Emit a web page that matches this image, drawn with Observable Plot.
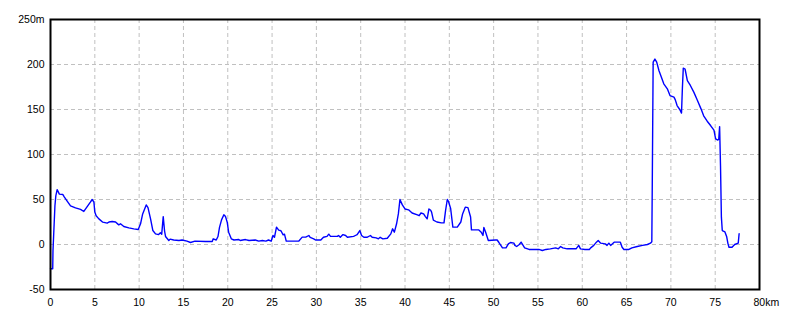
<!DOCTYPE html>
<html>
<head>
<meta charset="utf-8">
<script src="https://cdn.jsdelivr.net/npm/d3@7"></script>
<script src="https://cdn.jsdelivr.net/npm/@observablehq/plot@0.6"></script>
<style>
  html, body { margin: 0; padding: 0; background: white; }
</style>
</head>
<body>
<div id="chart"></div>
<script>
const distanceKm = [
  0, 0.25, 0.28, 0.5, 0.6, 0.75, 1.0, 1.4, 1.55, 1.9, 2.26, 2.82, 3.39, 3.76, 4.14, 4.5, 4.7, 4.9, 5.0, 5.15,
  5.46, 5.9, 6.4, 6.6, 6.96, 7.34, 7.7, 7.9, 8.27, 8.84, 9.4, 9.9, 10.16, 10.4, 10.8, 11.0, 11.29, 11.55, 11.85, 12.2,
  12.4, 12.55, 12.72, 12.87, 12.98, 13.35, 13.5, 13.9, 14.5, 14.85, 15.4, 15.8, 16.3, 17.5, 18.25, 18.36, 18.7, 18.9, 19.07, 19.3,
  19.56, 19.75, 19.94, 20.1, 20.4, 20.7, 21.25, 21.4, 22.0, 22.4, 23.1, 23.5, 23.9, 24.3, 24.6, 24.9, 25.1, 25.27, 25.5, 25.75,
  26.0, 26.25, 26.4, 26.6, 28.0, 28.4, 28.8, 29.15, 29.3, 29.7, 29.9, 30.5, 30.8, 31.2, 31.4, 31.6, 32.36, 32.5, 32.7, 33.0,
  33.3, 33.5, 34.2, 34.4, 34.6, 34.9, 35.1, 35.36, 35.7, 36.1, 36.3, 36.75, 37.0, 37.2, 37.5, 38.0, 38.4, 38.6, 38.8, 39.05,
  39.25, 39.43, 39.7, 40.0, 40.4, 40.8, 41.4, 41.6, 41.8, 42.1, 42.3, 42.5, 42.7, 42.9, 43.0, 43.2, 43.6, 44.1, 44.4, 44.58,
  44.77, 44.9, 45.15, 45.4, 45.9, 46.3, 46.5, 46.8, 47.1, 47.4, 47.5, 48.3, 48.6, 48.8, 48.9, 49.1, 49.4, 50.2, 50.4, 50.6,
  51.0, 51.4, 51.66, 51.9, 52.3, 52.4, 52.6, 52.9, 53.1, 53.5, 54.0, 55.1, 55.5, 55.9, 56.4, 57.0, 57.3, 57.56, 57.8, 58.3,
  58.8, 59.3, 59.6, 59.8, 60.3, 60.8, 60.95, 61.3, 61.6, 61.8, 62.08, 62.6, 62.8, 63.0, 63.2, 63.6, 64.3, 64.5, 64.7, 65.27,
  65.6, 66.2, 66.8, 67.35, 67.7, 67.85, 67.9, 68.0, 68.2, 68.4, 68.66, 68.9, 69.2, 69.6, 69.9, 70.35, 70.5, 70.7, 71.0, 71.2,
  71.3, 71.4, 71.6, 71.86, 72.2, 72.6, 73.0, 73.4, 73.7, 74.1, 74.5, 74.86, 75.05, 75.3, 75.4, 75.5, 75.6, 75.7, 75.8, 76.1,
  76.3, 76.44, 76.56, 76.9, 77.2, 77.6, 77.7
];
const elevationM = [
  -27, -27, -7, 43, 54, 61, 56, 55.5, 53, 48, 43, 40.7, 39, 36.7, 42, 47, 50, 47, 36, 32,
  28.5, 24.8, 23.7, 25, 25.6, 25, 21.8, 23, 20, 18.5, 17.4, 16.7, 23, 34, 44, 41, 28.5, 15.5, 11.8, 11,
  13, 11.5, 31, 15, 8.9, 4.4, 6, 5, 4.4, 5, 3.7, 2.2, 3.7, 3.3, 3.3, 6.3, 5, 8.9, 19, 27.4,
  33, 31, 24.8, 13.7, 6.3, 5, 5.5, 4.4, 5.5, 4.4, 5, 3.7, 4.4, 3.7, 5, 3.7, 10, 8, 19.3, 16,
  15.3, 10.7, 11.5, 3.7, 3.7, 8.2, 8.2, 10, 8, 6.3, 5, 5, 8, 9, 11.5, 9, 9, 10, 8, 11,
  10, 8, 9, 10, 11, 15.5, 10, 8, 8, 10, 8, 7.4, 6.3, 8, 6.3, 7, 11.8, 17.4, 13.7, 23,
  34, 50, 44, 39.5, 38.5, 35, 33, 32, 35, 34, 31, 28.5, 39.5, 38, 36, 27, 25, 24, 24, 38,
  50, 48, 40, 19.3, 19.3, 25, 34, 41.5, 41, 30.5, 16.3, 16.3, 13.7, 10, 19, 13.7, 4.4, 5, 5, 2.2,
  -3.7, -3.7, 0.7, 2.2, 1.5, -1, -2.2, 0, 2.6, -3.7, -5.5, -5.5, -6.7, -5.5, -4.8, -3.7, -4.8, -2.2, -3.7, -4.8,
  -4.8, -4.8, -1, -4.8, -5.5, -5.5, -3.7, -1, 2.6, 4.4, 1.5, 0.7, -1, 1.5, -1, 2.6, 2.6, -3, -5.5, -5.5,
  -3.7, -2.2, -1, 0, 1.5, 3, 65, 202.6, 206, 202.6, 193, 186.7, 178.5, 173, 165.5, 163.7, 160.7, 154.4, 150, 146,
  174, 196, 195, 182, 176.7, 169, 160, 150.7, 143, 137, 131.9, 127, 117.4, 116, 117, 131, 87.8, 30.4, 15.5, 14,
  8.5, 1, -3, -3, 0, 1.5, 12
];
const xTicks = [0, 5, 10, 15, 20, 25, 30, 35, 40, 45, 50, 55, 60, 65, 70, 75];
const xLastTick = [80];
const yTicks = [-50, 0, 50, 100, 150, 200, 250];

const data = distanceKm.map((d, i) => ({km: d, m: elevationM[i]}));

const chart = Plot.plot({
  width: 800,
  height: 320,
  marginLeft: 50,
  marginRight: 41,
  marginTop: 19,
  marginBottom: 31,
  style: {fontFamily: "'Liberation Sans', Arial, sans-serif", fontSize: "10.5px", color: "black", background: "white"},
  x: {domain: [0, 80]},
  y: {domain: [-50, 250]},
  marks: [
    Plot.gridX(xTicks.filter(d => d > 0), {stroke: "#c0c0c0", strokeOpacity: 1, strokeDasharray: "4,3"}),
    Plot.gridY(yTicks.filter(d => d > -50 && d < 250), {stroke: "#c0c0c0", strokeOpacity: 1, strokeDasharray: "4,3"}),
    Plot.axisX(xTicks, {tickSize: 0, tickPadding: 9, label: null, tickFormat: d => String(d)}),
    Plot.axisX(xLastTick, {tickSize: 0, tickPadding: 9, label: null, tickFormat: d => d + "km", textAnchor: "start", dx: -6}),
    Plot.axisY(yTicks, {tickSize: 0, tickPadding: 6, label: null, tickFormat: d => d === 250 ? "250m" : String(d)}),
    Plot.line(data, {x: "km", y: "m", stroke: "#0000ff", strokeWidth: 1.4}),
    Plot.frame({stroke: "black", strokeWidth: 2})
  ]
});
document.getElementById("chart").appendChild(chart);
</script>
</body>
</html>
